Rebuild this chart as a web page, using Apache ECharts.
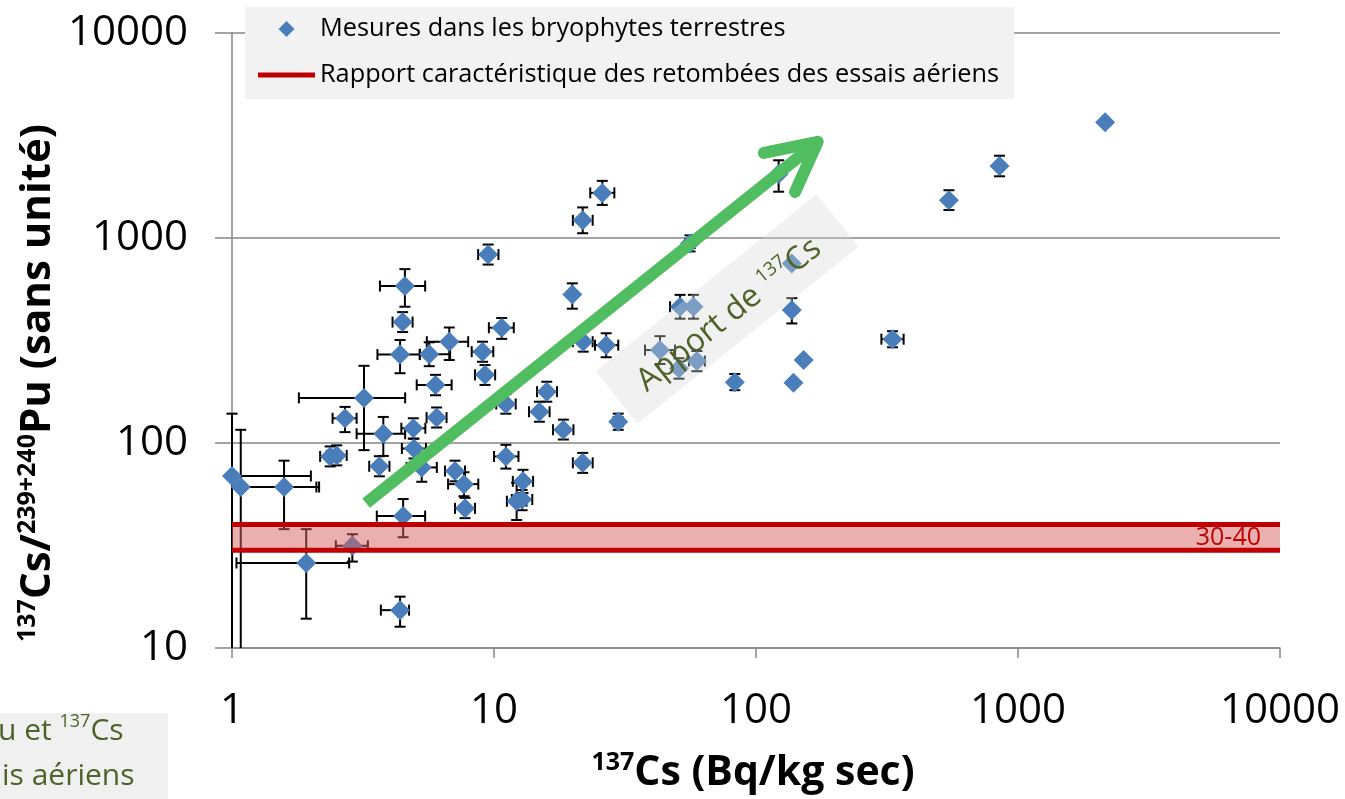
<!DOCTYPE html>
<html><head><meta charset="utf-8">
<script src="https://cdn.jsdelivr.net/npm/echarts@6/dist/echarts.min.js"></script>
<style>html,body{margin:0;padding:0;background:#fff}#c{width:1345px;height:799px}</style>
</head><body><div id="c"></div>
<script>
// ---- data ----
const cs137 = [1.0,1.08,1.58,1.92,2.88,4.38,4.5,3.65,2.37,2.51,
  3.78,3.19,2.7,4.92,4.95,5.3,4.57,4.48,4.38,5.66,
  6.75,5.98,6.04,10.7,9.04,9.24,9.5,19.9,21.9,15.9,
  14.9,11.1,18.4,7.1,7.68,7.75,11.1,12.9,12.2,12.8,
  21.8,25.9,21.8,26.8,29.8,43,50.8,59.5,51.3,57.7,
  56,83,137,137,139,152,122,332,545,850,2150];
const ratio = [69,61,61,26,31.5,15.3,44,77,86,87,
  111,166,132,118,94,76,583,389,270,271,
  312,192,133,365,279,215,830,530,312,178,
  142,155,116,73,63,48,86,65,52,53,
  80,1660,1220,300,127,284,231,251,462,462,
  940,198,750,445,197,254,2050,321,1530,2245,3670];
const csLow = [0.5,0.5,1.05,1.04,2.49,3.70,3.57,3.34,2.17,2.30,
  2.99,1.80,2.42,4.43,4.45,4.64,3.67,4.10,3.59,5.21,
  5.54,5.07,5.53,9.56,8.22,8.46,8.70,19.4,20.0,14.6,
  13.6,10.2,16.8,6.5,6.68,7.1,10.0,11.8,11.2,11.7,
  20.0,23.3,20.0,24.3,28.6,37.7,50.0,55.5,47.0,56.5,
  53.7,82,135,134,137,150,120,301,535,840,2150];
const csHigh = [2.0,2.1,2.15,2.80,3.30,4.74,5.46,3.99,2.59,2.74,
  4.58,4.58,2.99,5.47,5.50,6.05,5.46,4.89,5.21,6.80,
  7.97,6.89,6.59,11.9,9.94,10.1,10.4,20.4,23.8,17.4,
  16.3,12.1,20.1,7.75,8.71,8.46,12.4,14.1,13.3,14.0,
  23.8,28.8,23.8,29.8,31.0,49.1,51.6,63.8,56.0,58.9,
  58.4,84,139,140,141,154,124,366,555,860,2150];
const ratioLow = [5,5,38,13.9,26.4,12.7,34.7,68.8,76.9,77.8,
  86.5,92.3,113,105,84,64.7,462,348,219,237,
  254,171,119,322,249,192,742,452,279,159,
  127,139,104,65,55,43,75,57,42.1,47,
  71.5,1450,1055,262,116,243,206,224,404,404,
  860,181,730,383,190,246,1682,293,1370,2000,3670];
const ratioHigh = [139,116,82,38,35.9,17.8,53.3,86.2,96.2,97.4,
  134,238,150,132,105,89,705,435,318,310,
  366,215,149,407,312,240,929,601,349,199,
  159,173,130,82,72,54,98,74,64,59,
  89.5,1900,1410,343,139,332,259,281,528,528,
  1030,217,770,509,204,262,2394,351,1710,2520,3670];
const falloutRange = [30, 40];
const xTickLabels = ['1','10','100','1000','10000'];
const yTickLabels = ['10','100','1000','10000'];
const SCATTER_NAME = 'Mesures dans les bryophytes terrestres';
const LINE_NAME = 'Rapport caractéristique des retombées des essais aériens';
const arrowFrom = [3.25, 50.9];
const arrowTo = [172, 2945];
const boxCenter = [77.6, 451];

const X_MIN = 1, X_MAX = 10000, Y_MIN = 10, Y_MAX = 10000;
const FONT = 'Open Sans';

const points = cs137.map((x, i) => [x, ratio[i]]);
const errData = cs137.map((x, i) => [x, ratio[i], csLow[i], csHigh[i], ratioLow[i], ratioHigh[i]]);

function renderErr(params, api) {
  const x = api.value(0), y = api.value(1);
  const xl = api.value(2), xh = api.value(3), yl = api.value(4), yh = api.value(5);
  const c = api.coord([x, y]);
  const cap = 5.5;
  const st = {stroke: '#000', lineWidth: 2};
  const cx = v => Math.min(Math.max(v, X_MIN), X_MAX);
  const cy = v => Math.min(Math.max(v, Y_MIN), Y_MAX);
  const ln = (x1, y1, x2, y2) => ({type: 'line', shape: {x1, y1, x2, y2}, style: st});
  const ch = [];
  if (xh > xl) {
    const a = api.coord([cx(xl), y])[0], b = api.coord([cx(xh), y])[0];
    ch.push(ln(a, c[1], b, c[1]));
    if (xl >= X_MIN) ch.push(ln(a, c[1] - cap, a, c[1] + cap));
    if (xh <= X_MAX) ch.push(ln(b, c[1] - cap, b, c[1] + cap));
  }
  if (yh > yl) {
    const a = api.coord([x, cy(yl)])[1], b = api.coord([x, cy(yh)])[1];
    ch.push(ln(c[0], a, c[0], b));
    if (yl >= Y_MIN) ch.push(ln(c[0] - cap, a, c[0] + cap, a));
    if (yh <= Y_MAX) ch.push(ln(c[0] - cap, b, c[0] + cap, b));
  }
  return {type: 'group', children: ch};
}

function renderBand(params, api) {
  const p1 = api.coord([X_MIN, api.value(1)]);
  const p2 = api.coord([X_MAX, api.value(0)]);
  return {type: 'rect', shape: {x: p1[0], y: p1[1], width: p2[0] - p1[0], height: p2[1] - p1[1]},
    style: {fill: 'rgba(214,96,96,0.5)'}};
}

const axisGrey = '#868686';
const chart = echarts.init(document.getElementById('c'), null, {renderer: 'canvas'});
const option = {
  animation: false,
  backgroundColor: '#fff',
  textStyle: {fontFamily: FONT},
  grid: {left: 232, right: 65, top: 33, bottom: 151},
  legend: {
    left: 245, top: 7, orient: 'vertical',
    backgroundColor: '#F2F2F2', padding: [7, 15, 9, 13],
    itemWidth: 57, itemHeight: 16, itemGap: 16, z: 20,
    textStyle: {fontSize: 25.3, color: '#000', fontFamily: FONT, lineHeight: 30},
    data: [{name: SCATTER_NAME, icon: 'path://M0,-10L10,0L0,10L-10,0Z'},
      {name: LINE_NAME, icon: 'path://M0,0L57,0L57,5L0,5Z', itemStyle: {color: '#C00000'}}]
  },
  xAxis: {
    type: 'log', logBase: 10, min: X_MIN, max: X_MAX,
    axisLine: {show: true, lineStyle: {color: axisGrey, width: 1.5}},
    axisTick: {show: true, length: 10, lineStyle: {color: axisGrey, width: 1.5}},
    minorTick: {show: false}, splitLine: {show: false},
    axisLabel: {fontSize: 42, color: '#000', fontFamily: FONT, margin: 42,
      formatter: v => xTickLabels[Math.round(Math.log10(v))]}
  },
  yAxis: {
    type: 'log', logBase: 10, min: Y_MIN, max: Y_MAX,
    axisLine: {show: true, lineStyle: {color: axisGrey, width: 1.5}},
    axisTick: {show: true, length: 17, lineStyle: {color: axisGrey, width: 1.5}},
    minorTick: {show: false},
    splitLine: {show: true, lineStyle: {color: axisGrey, width: 1.5}},
    axisLabel: {fontSize: 42, color: '#000', fontFamily: FONT, margin: 44,
      formatter: v => yTickLabels[Math.round(Math.log10(v)) - 1]}
  },
  series: [
    {type: 'custom', name: 'err', renderItem: renderErr, data: errData, z: 2, silent: true,
      encode: {x: 0, y: 1}},
    {type: 'scatter', name: SCATTER_NAME, data: points, symbol: 'diamond', symbolSize: 20,
      itemStyle: {color: '#4A7EBB', opacity: 1}, z: 3},
    {type: 'custom', name: 'band', renderItem: renderBand, data: [[falloutRange[0], falloutRange[1]]], z: 4, silent: true},
    {type: 'line', name: LINE_NAME, data: [[X_MIN, falloutRange[0]], [X_MAX, falloutRange[0]]],
      symbol: 'none', showSymbol: false, lineStyle: {color: '#C00000', width: 5}, itemStyle: {color: '#C00000'}, z: 5},
    {type: 'line', name: LINE_NAME, data: [[X_MIN, falloutRange[1]], [X_MAX, falloutRange[1]]],
      symbol: 'none', showSymbol: false, lineStyle: {color: '#C00000', width: 5}, itemStyle: {color: '#C00000'}, z: 5}
  ]
};
chart.setOption(option);

// ---- annotations ----
const toPx = v => chart.convertToPixel({gridIndex: 0}, v);
const s = toPx(arrowFrom), t = toPx(arrowTo), bc = toPx(boxCenter);
const th = Math.atan2(t[1] - s[1], t[0] - s[0]);
const L = 55, spread = 27 * Math.PI / 180;
const b1 = [t[0] + L * Math.cos(th + Math.PI - spread), t[1] + L * Math.sin(th + Math.PI - spread)];
const b2 = [t[0] + L * Math.cos(th + Math.PI + spread), t[1] + L * Math.sin(th + Math.PI + spread)];
const green = '#50BD60', olive = '#4F6228';
const rot = -th;
const sy = toPx([X_MAX, Math.sqrt(falloutRange[0] * falloutRange[1])]);
const supRich = (fs, lh, w) => ({
  m: {fontSize: fs, fontWeight: w, fontFamily: FONT, lineHeight: lh},
  s: {fontSize: Math.round(fs * 0.6), fontWeight: w, fontFamily: FONT, lineHeight: Math.round(lh * 0.62), verticalAlign: 'top'}
});
chart.setOption({graphic: [
  {type: 'rect', z: 40, x: bc[0], y: bc[1], rotation: rot,
    shape: {x: -141.5, y: -33.5, width: 283, height: 67}, style: {fill: 'rgba(214,214,214,0.35)'}},
  {type: 'text', z: 41, x: bc[0] + 2, y: bc[1] + 6, rotation: rot,
    style: {text: '{m|Apport de }{s|137}{m|Cs}', fill: olive, align: 'center', verticalAlign: 'middle',
      rich: supRich(32, 38, 'normal')}},
  {type: 'line', z: 42, shape: {x1: s[0], y1: s[1], x2: t[0], y2: t[1]},
    style: {stroke: green, lineWidth: 12, lineCap: 'butt'}},
  {type: 'polyline', z: 42, shape: {points: [b1, t, b2]},
    style: {stroke: green, lineWidth: 12, lineCap: 'round', lineJoin: 'round', fill: null}},
  {type: 'text', z: 42, x: 1261, y: sy[1], style: {text: '30-40', fill: '#C00000', fontSize: 25,
    fontFamily: FONT, align: 'right', verticalAlign: 'middle'}},
  {type: 'text', z: 30, x: 753, y: 773, style: {text: '{s|137}{m|Cs (Bq/kg sec)}', fill: '#000',
    align: 'center', verticalAlign: 'middle', rich: supRich(41, 46, 'bold')}},
  {type: 'text', z: 30, x: 38, y: 383, rotation: Math.PI / 2, style: {
    text: '{s|137}{m|Cs/}{s|239+240}{m|Pu (sans unité)}', fill: '#000',
    align: 'center', verticalAlign: 'middle', rich: supRich(42, 46, 'bold')}},
  {type: 'rect', z: 30, shape: {x: 0, y: 713, width: 168, height: 86}, style: {fill: '#F0F0F0'}},
  {type: 'text', z: 31, x: -2, y: 731, style: {text: '{m|u et }{s|137}{m|Cs}', fill: olive,
    align: 'left', verticalAlign: 'middle', rich: supRich(30, 36, 'normal')}},
  {type: 'text', z: 31, x: 2, y: 776, style: {text: 'is aériens', fill: olive, fontSize: 30,
    fontFamily: FONT, align: 'left', verticalAlign: 'middle'}}
]});
</script></body></html>
